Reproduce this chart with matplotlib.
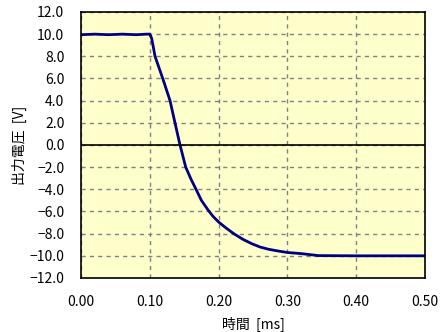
import numpy as np
import matplotlib
matplotlib.use("Agg")
import matplotlib.pyplot as plt

plt.rcParams['font.family'] = ['Noto Sans CJK JP', 'DejaVu Sans']

# time [ms] and output voltage [V]
t = [0.000, 0.020, 0.040, 0.060, 0.080, 0.095, 0.100, 0.1028, 0.1076, 0.1188,
     0.1294, 0.1366, 0.1439, 0.1522, 0.1600, 0.1672, 0.175, 0.1846, 0.192,
     0.200, 0.210, 0.222, 0.235, 0.248, 0.260, 0.272, 0.285, 0.300, 0.320,
     0.345, 0.400, 0.450, 0.500]
v = [9.95, 10.0, 9.95, 10.0, 9.95, 10.0, 10.0, 9.6, 8.0, 6.0,
     4.0, 2.0, 0.0, -2.0, -3.1, -4.0, -5.0, -5.86, -6.45,
     -6.95, -7.45, -8.0, -8.5, -8.9, -9.2, -9.4, -9.55, -9.7, -9.8,
     -9.98, -10.0, -10.0, -10.0]

xticks = [0.0, 0.1, 0.2, 0.3, 0.4, 0.5]
yticks = list(range(-12, 13, 2))

fig = plt.figure(figsize=(4.41, 3.32), dpi=100)
ax = fig.add_axes([0.1837, 0.1627, 0.78, 0.8012])
ax.set_facecolor('#FFFFCC')
ax.plot(t, v, color='#000080', lw=2.0)
ax.axhline(0, color='black', lw=1.2)
ax.set_xlim(0, 0.5)
ax.set_ylim(-12, 12)
ax.set_xticks(xticks)
ax.set_yticks(yticks)
ax.set_xticklabels(["%.2f" % x for x in xticks], fontsize=10)
ax.set_yticklabels([("%.1f" % y).replace('-', '\u2212') for y in yticks], fontsize=10)
ax.grid(True, color='#808080', ls=(0, (3, 3)), lw=1)
ax.tick_params(axis='y', length=0, pad=12)
ax.tick_params(axis='x', length=0, pad=12)
for s in ax.spines.values():
    s.set_color('black')
    s.set_linewidth(1.2)
ax.set_xlabel("時間  [ms]", fontsize=10, labelpad=6)
ax.set_ylabel("出力電圧  [V]", fontsize=10, labelpad=2)
fig.savefig("out.png", dpi=100)
